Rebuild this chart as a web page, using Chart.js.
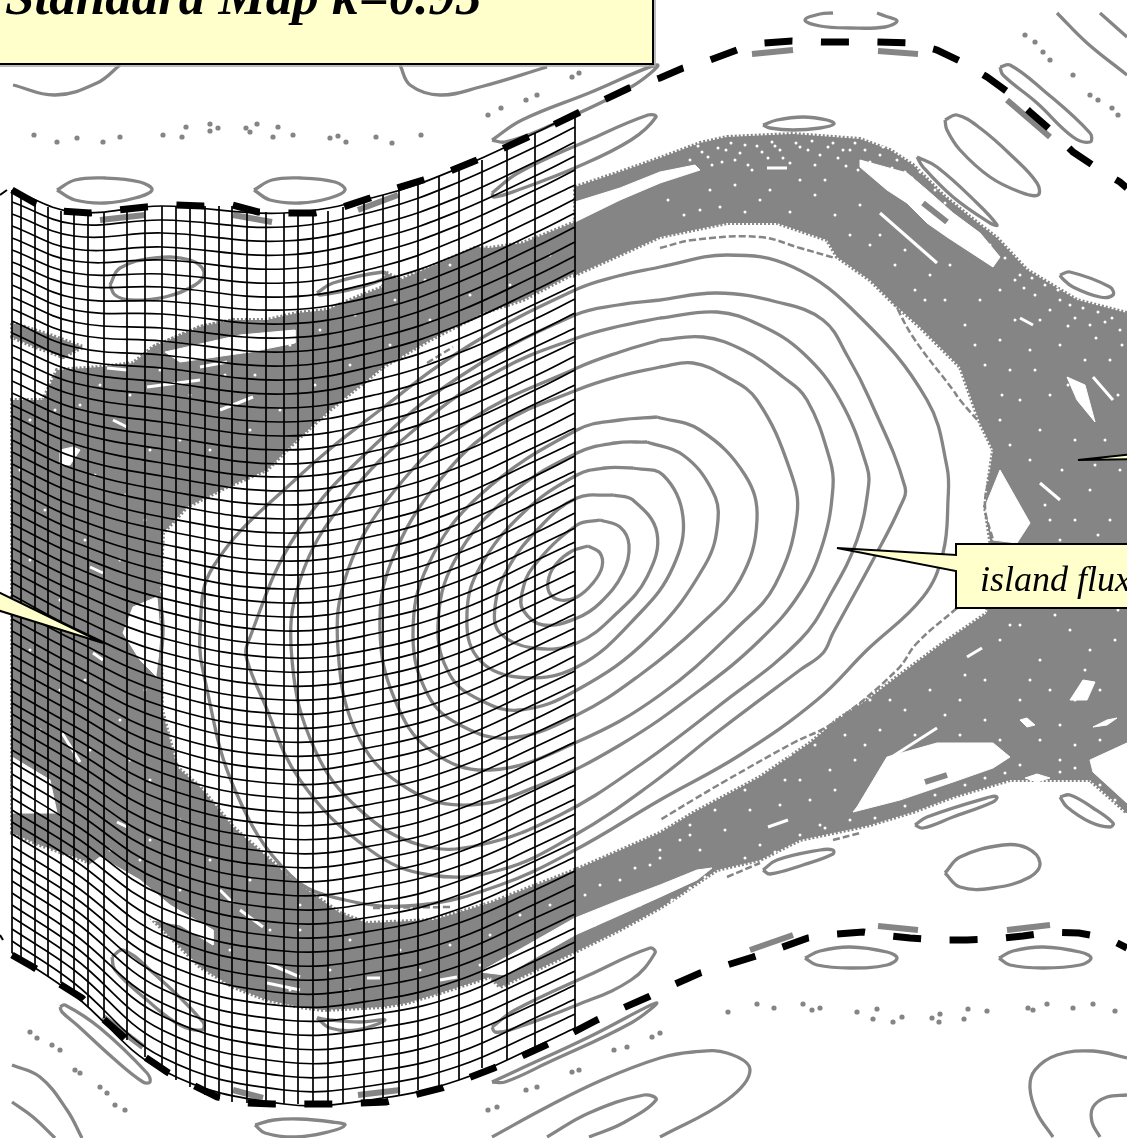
<!DOCTYPE html>
<html>
<head>
<meta charset="utf-8">
<title>Standard Map</title>
<style>
	html, body { margin: 0; padding: 0; background: #fff; overflow: hidden; }
	#wrap { position: relative; width: 1127px; height: 1138px; overflow: hidden; }
	#map { position: absolute; left: 0; top: 0; }
	.label { position: absolute; white-space: nowrap; font-family: "Liberation Serif", serif; font-style: italic; color: #000; }
	#title { left: 5px; top: -37px; font-size: 53px; line-height: 66px; font-weight: bold; }
	#flux { left: 980px; top: 558px; font-size: 36px; line-height: 42px; }
</style>
<script src="https://cdn.jsdelivr.net/npm/chart.js@4"></script>
</head>
<body>
<div id="wrap">
	<canvas id="map" width="1127" height="1138"></canvas>
	<div class="label" id="title">Standard Map k=0.95</div>
	<div class="label" id="flux">island flux</div>
</div>
<script>
//---------------------------------------------------------
// Data, all in picture units
//---------------------------------------------------------

// Nested orbits of the main island, inner to outer
const ORBIT_1 = [[588,546],[600,553],[602,567],[593,583],[577,597],[560,600],[549,592],[549,577],[557,563],[572,551]];
const ORBIT_2 = [[600,520],[620,527],[629,545],[623,573],[600,603],[577,618],[543,625],[523,610],[522,593],[533,567],[577,525]];
const ORBIT_3 = [[613,495],[633,500],[657,533],[647,577],[617,613],[577,643],[533,648],[500,633],[495,607],[507,570],[540,527],[577,498]];
const ORBIT_4 = [[633,468],[663,475],[683,517],[673,567],[640,613],[577,667],[517,677],[477,657],[467,613],[480,567],[523,513],[577,475],[605,468]];
const ORBIT_5 = [[647,442],[683,455],[712,490],[718,520],[705,565],[650,637],[577,690],[520,710],[480,700],[450,675],[438,625],[455,560],[510,495],[577,453],[615,443]];
const ORBIT_6 = [[657,417],[700,430],[745,475],[757,520],[740,580],[700,625],[640,675],[577,715],[510,738],[460,725],[428,695],[413,635],[428,565],[480,495],[577,430],[620,420]];
const ORBIT_7 = [[660,367],[693,363],[727,377],[757,400],[790,470],[797,515],[775,585],[740,625],[660,695],[577,742],[490,770],[430,750],[395,700],[380,630],[392,560],[440,480],[500,425],[577,390],[620,376]];
const ORBIT_8 = [[660,340],[703,337],[743,350],[783,377],[807,400],[830,460],[833,487],[823,543],[800,593],[760,640],[700,690],[620,745],[540,785],[470,805],[410,790],[360,740],[338,650],[348,570],[395,490],[470,420],[577,368],[620,352]];
const ORBIT_9 = [[660,318],[717,312],[760,325],[803,353],[840,400],[867,467],[868,490],[857,540],[833,590],[800,640],[720,705],[640,765],[560,815],[480,845],[420,845],[360,810],[315,750],[292,660],[300,580],[345,500],[420,425],[500,370],[577,338],[620,326]];
const ORBIT_10 = [[660,300],[717,293],[777,302],[823,320],[848,357],[870,400],[905,487],[900,507],[873,560],[833,633],[823,653],[800,670],[720,730],[650,785],[575,835],[500,870],[430,875],[370,850],[300,780],[263,700],[247,660],[247,645],[297,533],[380,440],[470,370],[575,315],[618,305]];
const ORBIT_11 = [[660,267],[727,255],[793,267],[860,317],[927,400],[947,467],[948,500],[943,553],[923,597],[867,650],[817,700],[740,755],[660,800],[575,850],[500,885],[420,905],[345,900],[290,875],[235,790],[205,680],[200,633],[213,567],[297,478],[380,410],[470,345],[575,290],[618,276]];

// Small closed islands around the chain
const ISLAND_TOP_A = [[57,190],[75,180],[105,178],[140,182],[152,190],[135,198],[105,203],[75,200]];
const ISLAND_TOP_B = [[254,190],[272,180],[300,178],[335,182],[345,190],[330,198],[300,203],[270,200]];
const ISLAND_UPPER = [[110,285],[120,268],[155,258],[190,260],[204,272],[195,285],[165,297],[130,300],[115,295]];
const ISLAND_DIAG_A = [[492,140],[522,120],[589,93],[657,65],[631,87],[547,127],[505,142]];
const ISLAND_DIAG_B = [[492,193],[518,173],[589,140],[648,115],[656,117],[631,140],[577,167],[518,190],[494,197]];
const ISLAND_MESH_A = [[317,293],[333,283],[383,272],[387,277],[357,288],[320,295]];
const ISLAND_ARC_TOP = [[763,125],[777,120],[803,117],[827,120],[834,124],[820,128],[793,130],[770,128]];
const ISLAND_THIN_A = [[917,157],[937,167],[977,203],[997,225],[990,223],[953,197],[923,167]];
const ISLAND_OVAL = [[945,120],[957,115],[980,128],[1013,157],[1037,183],[1038,195],[1020,192],[990,177],[960,150],[947,130]];
const ISLAND_LONG = [[1000,67],[1010,65],[1043,90],[1090,133],[1090,142],[1073,137],[1037,103],[1003,75]];
const ISLAND_RIGHT = [[1060,275],[1070,272],[1110,287],[1113,295],[1100,297],[1073,287],[1062,278]];
const ISLAND_LOW_A = [[763,870],[777,860],[820,850],[833,850],[833,854],[803,865],[770,874]];
const ISLAND_LOW_B = [[915,825],[927,817],[990,797],[997,797],[993,802],[953,817],[923,828]];
const ISLAND_LOW_C = [[1060,797],[1070,795],[1093,808],[1113,823],[1110,827],[1090,822],[1067,807]];
const ISLAND_EGG = [[945,873],[960,857],[1003,845],[1027,848],[1040,863],[1030,877],[993,888],[960,887]];
const ISLAND_FLAT_A = [[805,958],[820,951],[850,947],[887,952],[897,958],[887,965],[850,968],[817,965]];
const ISLAND_FLAT_B = [[999,958],[1013,951],[1043,947],[1080,952],[1091,958],[1080,965],[1043,968],[1010,965]];
const ISLAND_BOTTOM = [[255,1125],[274,1120],[299,1119],[332,1122],[345,1125],[328,1132],[295,1137],[265,1133]];
const ISLAND_MESH_B = [[317,1018],[330,1028],[357,1030],[385,1020],[360,1022],[330,1020]];
const ISLAND_DIAG_C = [[492,1027],[515,1010],[589,975],[650,948],[655,953],[631,980],[577,1005],[510,1030],[495,1032]];
const ISLAND_DIAG_D = [[492,1082],[518,1070],[589,1037],[656,1003],[631,1023],[547,1063],[505,1082]];
const ISLAND_DIAG_E = [[60,1007],[65,1005],[100,1028],[147,1073],[150,1082],[143,1082],[113,1058],[77,1025],[62,1012]];
const ISLAND_MESH_C = [[112,957],[123,950],[150,970],[203,1022],[202,1030],[180,1025],[147,1000],[115,970]];

// Curves cut off by the title or the picture edge
const OPEN_TITLE_A = [[13,85],[55,95],[97,83],[120,65]];
const OPEN_TITLE_B = [[400,65],[410,85],[440,95],[480,87],[547,67]];
const OPEN_TOP_FLAT = [[833,13],[820,14],[805,20],[820,26],[850,28],[885,27],[897,21],[885,16],[877,13]];
const OPEN_CORNER_A = [[1057,13],[1087,43],[1127,75]];
const OPEN_CORNER_B = [[1100,13],[1127,37]];
const OPEN_LOW_LEFT_A = [[12,1065],[40,1077],[67,1110],[82,1138]];
const OPEN_LOW_LEFT_B = [[12,1102],[33,1117],[55,1138]];
const OPEN_LOW_MID_A = [[492,1137],[547,1107],[602,1080],[660,1058],[693,1052],[727,1053],[750,1070],[727,1100],[660,1137]];
const OPEN_LOW_MID_B = [[547,1137],[589,1113],[644,1095],[656,1100],[623,1123],[589,1137]];
const OPEN_LOW_RIGHT_A = [[1127,1058],[1093,1051],[1057,1055],[1035,1070],[1030,1088],[1037,1113],[1053,1137]];
const OPEN_LOW_RIGHT_B = [[1127,1095],[1107,1097],[1093,1107],[1092,1122],[1100,1137]];

// Short solid grey bars, secondary islands seen edge on
const BAR_LIST = [
	[[100,220],[145,215]], [[233,215],[272,222]], [[358,210],[398,195]],
	[[923,203],[947,222]], [[1007,100],[1050,137]], [[925,782],[947,775]],
	[[750,950],[793,935]], [[878,926],[918,930]], [[1007,930],[1050,925]],
	[[358,1095],[400,1090]], [[233,1090],[263,1098]], [[103,1017],[143,1047]],
	[[752,54],[793,50]], [[878,51],[918,54]],
];

// Broken invariant curves hugging the chaotic band
const BROKEN_ARC_TOP = [[660,248],[693,240],[760,237],[800,248],[835,258]];
const BROKEN_ARC_RIGHT = [[893,300],[913,337],[953,390],[960,400],[980,423]];
const BROKEN_ARC_LOBE = [[990,473],[985,507],[993,540]];
const BROKEN_ARC_LOW = [[957,608],[917,643],[897,670],[833,723],[793,743],[727,780],[693,800],[660,820]];
const BROKEN_ARC_BAND = [[727,877],[760,863]];
const BROKEN_ARC_BAND_B = [[833,840],[860,833]];
const BROKEN_ARC_MESH_A = [[373,908],[450,907]];
const BROKEN_ARC_MESH_B = [[427,363],[453,347]];
const LOBE_EDGE = [[160,593],[163,633],[158,677]];

// Outlines of the chaotic sea
const CHAOS_RIGHT = [[575,187],[620,172],[660,158],[700,143],[727,137],[793,134],[860,139],[890,150],[913,165],[943,195],[970,217],[997,238],[1027,270],[1077,300],[1127,313],[1127,813],[1090,780],[1053,780],[1010,780],[953,797],[913,812],[870,825],[857,828],[833,833],[800,840],[760,860],[717,870],[680,895],[660,908],[620,930],[575,952],[575,870],[660,833],[693,813],[760,777],[810,743],[837,720],[867,700],[897,677],[943,643],[987,613],[993,560],[985,507],[990,470],[993,450],[980,423],[960,367],[920,327],[893,303],[870,280],[837,257],[827,240],[777,223],[727,223],[660,237],[620,255],[575,275]];
const CHAOS_LEFT = [[575,222],[523,243],[490,248],[477,247],[430,267],[400,280],[385,272],[383,287],[357,297],[327,310],[297,313],[267,320],[235,320],[200,327],[153,347],[133,363],[100,367],[57,370],[43,400],[12,400],[12,833],[40,845],[83,860],[100,868],[133,893],[153,920],[200,967],[233,987],[267,1000],[300,1007],[323,1010],[383,1007],[407,1003],[440,993],[490,977],[500,987],[575,952],[575,870],[523,890],[490,903],[457,913],[433,920],[367,923],[340,913],[307,890],[293,880],[267,857],[233,827],[200,787],[177,767],[162,710],[160,593],[163,533],[187,507],[227,487],[267,470],[297,440],[330,410],[383,367],[430,340],[483,313],[523,300],[575,273]];
const CHAOS_STRIP_A = [[12,323],[50,335],[83,347],[63,357],[30,345],[12,337]];
const CHAOS_STRIP_B = [[12,775],[22,780],[12,787]];
const CHAOS_STRIP_C = [[153,347],[200,327],[233,320],[243,337],[200,343],[153,350]];

// White holes inside the chaotic sea
const HOLE_LIST = [
	[[575,202],[620,188],[660,172],[695,165],[700,170],[660,183],[620,200],[575,222]],
	[[860,160],[907,173],[927,190],[953,213],[980,233],[1000,257],[993,267],[947,237],[927,223],[907,203],[887,190],[860,167]],
	[[1067,377],[1085,385],[1095,422],[1077,400]],
	[[1000,470],[1030,523],[1017,543],[993,540],[985,507]],
	[[1070,700],[1083,680],[1095,682],[1087,700]],
	[[1020,720],[1027,718],[1035,725],[1027,727]],
	[[1093,727],[1107,720],[1117,718],[1107,725]],
	[[1090,760],[1127,743],[1127,803],[1093,772]],
	[[1025,778],[1037,774],[1050,778],[1037,782]],
	[[857,807],[887,757],[937,743],[993,743],[1010,757],[993,768],[953,782],[900,800],[853,812]],
	[[575,918],[620,900],[660,885],[697,870],[712,868],[697,880],[660,897],[620,915],[575,935],[505,975],[480,972]],
	[[133,607],[157,597],[160,633],[157,677],[140,660],[123,633]],
	[[165,352],[240,335],[295,330],[295,343],[250,352],[180,362]],
	[[60,450],[73,447],[80,450],[70,465],[60,465]],
	[[12,757],[50,780],[57,813],[12,813]],
	[[100,857],[140,880],[170,905],[213,930],[213,945],[180,925],[153,920],[120,897],[87,867]],
];
const SLIT_LIST = [
	[[880,213],[937,263]], [[767,168],[787,168]], [[1020,318],[1033,325]], [[1093,377],[1113,400]],
	[[887,760],[937,728]], [[768,827],[788,820]], [[1040,483],[1060,500]], [[967,657],[982,648]],
	[[113,420],[127,427]], [[220,410],[253,397]], [[147,387],[200,380]], [[107,368],[127,370]],
	[[200,367],[227,362]], [[62,733],[80,762]], [[117,822],[127,827]], [[90,567],[103,573]],
	[[93,653],[103,660]], [[220,890],[233,903]], [[240,910],[263,927]], [[267,963],[300,977]],
	[[267,983],[300,990]], [[367,978],[380,978]], [[440,980],[457,977]],
];

// White flecks scattered through the sea
const SPECKLE_RIGHT = [[690,160],[702,152],[712,165],[726,150],[735,160],[745,145],[752,170],[762,152],[775,146],[783,158],[796,143],[808,150],[815,165],[828,147],[838,158],[850,150],[858,170],[870,162],[880,155],[892,168],[900,180],[675,172],[668,200],[684,215],[700,210],[720,207],[745,212],[760,200],[790,212],[815,195],[835,215],[850,235],[870,245],[895,265],[915,290],[905,250],[930,275],[945,300],[965,325],[950,265],[980,300],[1000,290],[1015,280],[1035,295],[1050,310],[1060,300],[1075,318],[1090,325],[1105,322],[1120,330],[1040,320],[1000,340],[985,365],[1010,370],[1030,350],[1060,345],[1085,360],[1110,360],[1020,400],[1050,395],[1000,420],[1040,430],[1075,440],[1105,440],[1120,470],[1030,460],[1010,445],[1090,490],[1075,520],[1110,520],[1050,520],[1060,540],[1000,640],[1020,625],[1040,660],[1070,630],[1090,650],[1115,640],[1100,690],[1050,690],[1020,700],[985,680],[960,700],[930,690],[905,710],[880,730],[855,760],[830,770],[800,780],[780,805],[750,810],[725,830],[700,850],[680,840],[650,865],[620,880],[760,770],[790,755],[815,745],[845,735],[870,700],[1000,740],[1040,740],[1060,760],[1075,745],[1100,740],[870,790],[900,795],[820,825],[760,845]];
const SPECKLE_ARC = [[698,146],[708,157],[718,148],[722,162],[731,143],[740,153],[748,165],[757,146],[768,158],[772,142],[780,150],[790,163],[800,147],[812,141],[820,155],[833,143],[843,150],[846,166],[855,143],[865,150],[875,168],[883,147],[897,160],[905,172],[912,178],[920,172],[935,190],[945,203],[960,222],[975,232],[990,245],[1005,258],[1020,275],[1032,278],[1045,285],[1058,290],[1070,305],[1083,308],[1098,312],[1112,318],[1024,288],[1068,326],[1096,338],[1122,345]];
const SPECKLE_MID = [[710,190],[735,185],[770,190],[800,180],[825,180],[860,205],[880,235],[925,300],[975,345],[1015,320],[1068,385],[1118,395],[1035,370],[1002,395],[1062,470],[1095,465],[1045,505],[1098,535],[1010,625],[1055,615],[1030,680],[1085,670],[1118,610],[965,675],[945,715],[915,735],[890,700],[865,745],[835,790],[810,800],[785,780],[745,790],[715,810],[690,825],[660,850],[1060,725],[1075,700],[985,720],[960,735]];
const SPECKLE_LOW_EDGE = [[672,900],[690,888],[705,877],[745,858],[775,852],[800,835],[825,828],[850,820],[875,818],[905,806],[935,795],[965,785],[985,778],[1005,773],[1060,772],[1075,768],[1020,765],[1100,785],[1115,800],[595,925],[610,915],[640,905],[585,895],[600,885],[635,868],[660,858],[690,835]];
const SPECKLE_LEFT = [[30,420],[55,410],[80,405],[100,385],[130,395],[160,370],[190,395],[225,375],[255,375],[290,345],[320,330],[355,315],[395,300],[425,280],[450,265],[20,470],[45,510],[95,475],[125,495],[150,450],[180,440],[210,450],[250,430],[280,410],[315,385],[350,365],[390,345],[430,320],[470,295],[510,285],[550,255],[30,560],[60,600],[85,540],[120,560],[145,520],[30,650],[60,690],[85,680],[120,720],[145,690],[40,730],[90,750],[130,760],[150,780],[25,790],[75,800],[110,850],[150,840],[180,820],[210,860],[250,880],[140,860],[180,890],[230,950],[270,930],[300,930],[300,905],[350,940],[330,970],[290,990],[350,990],[400,950],[420,970],[450,945],[490,935],[520,915],[550,905],[480,965]];

// Isolated dots of the outer broken tori
const DOTS_UPPER = [[34,135],[57,142],[77,138],[103,142],[120,137],[163,135],[182,137],[186,127],[210,131],[210,124],[218,128],[246,128],[257,124],[250,132],[273,137],[278,127],[293,135],[330,138],[338,136],[346,142],[376,137],[392,143],[421,135]];
const DOTS_LOWER = [[728,1012],[757,1004],[774,1008],[803,1004],[812,1010],[820,1008],[857,1012],[877,1009],[873,1019],[893,1022],[902,1017],[932,1018],[940,1014],[939,1022],[964,1019],[968,1009],[987,1011],[1028,1008],[1033,1010],[1047,1004],[1073,1008],[1093,1004],[1115,1011]];
const DOTS_DIAGONAL = [[488,115],[501,108],[526,100],[537,95],[572,77],[579,73],[1025,35],[1035,42],[1043,52],[1050,60],[1073,75],[1090,95],[1098,100],[1112,108],[1118,115],[30,1032],[37,1038],[52,1045],[60,1050],[75,1070],[80,1073],[100,1087],[107,1093],[115,1105],[125,1110],[488,1110],[497,1107],[526,1090],[537,1087],[572,1072],[579,1070],[614,1050],[627,1047],[652,1037],[660,1033]];

// Heavy dashed separatrices
const SEPARATRIX_TOP = [[12,190],[35,203],[61,211],[90,213],[118,210],[146,207],[175,205],[203,206],[232,205],[258,212],[287,213],[315,213],[343,207],[370,198],[397,188],[423,180],[450,171],[477,160],[502,149],[528,137],[553,125],[578,113],[604,100],[629,88],[660,78],[683,68],[710,60],[737,50],[764,43],[792,41],[821,42],[849,42],[877,42],[911,43],[937,50],[964,63],[987,77],[1012,95],[1031,113],[1053,132],[1073,152],[1097,168],[1120,182],[1127,188]];
const SEPARATRIX_BOTTOM = [[12,955],[33,967],[58,983],[82,998],[102,1018],[124,1037],[145,1057],[167,1072],[193,1085],[217,1097],[247,1103],[273,1104],[302,1104],[330,1104],[358,1103],[386,1102],[414,1095],[442,1088],[468,1078],[494,1068],[520,1057],[546,1045],[572,1033],[597,1020],[623,1008],[648,997],[673,985],[700,973],[727,965],[753,957],[780,948],[808,938],[836,934],[863,932],[882,935],[910,938],[938,940],[967,940],[995,939],[1023,936],[1051,932],[1079,933],[1107,938],[1127,948]];

// Warped mesh: vertical lines with their end heights
const MESH_X = [12,21,35,48,61,74,88,104,127,145,162,176,190,205,219,232,247,266,284,298,313,328,343,364,383,399,418,439,459,482,507,535,575];
const MESH_TOP = [190,193,203,207,211,212,213,213,209,207,206,206,206,206,206,206,209,212,213,213,212,211,207,200,195,190,185,176,168,160,147,133,113];
const MESH_BOTTOM = [953,960,967,977,983,995,1007,1018,1040,1057,1070,1080,1087,1095,1099,1102,1103,1104,1104,1104,1104,1103,1103,1102,1098,1095,1090,1086,1080,1068,1060,1047,1028];

// Mesh rows: height at each column of MESH_ROW_X. Only the first and last rows
// and a few spots were read directly, the rest assume roughly even row spacing
const MESH_ROW_X = [12,74,162,284,383,459,535,575];
const MESH_ROWS = [
	[190,212,206,213,195,168,133,113],[202,224,220,227,209,182,147,127],[214,236,233,241,223,197,162,142],
	[226,249,247,255,237,211,176,156],[238,261,260,269,251,225,190,170],[250,273,274,283,266,239,204,185],
	[262,285,287,297,280,254,219,199],[273,298,301,310,294,268,233,213],[285,310,314,324,308,282,247,227],
	[297,322,328,338,322,296,262,242],[309,334,341,352,336,311,276,256],[321,347,355,366,350,325,290,270],
	[333,359,368,380,364,339,304,285],[345,371,382,394,378,353,319,299],[357,383,395,408,393,368,333,313],
	[369,395,409,422,407,382,347,328],[381,408,422,436,421,396,361,342],[393,420,436,450,435,410,376,356],
	[405,432,449,464,449,425,390,370],[416,444,463,477,463,439,404,385],[428,457,476,491,477,453,419,399],
	[440,469,490,505,491,467,433,413],[452,481,503,519,505,482,447,428],[464,493,517,533,520,496,461,442],
	[476,506,530,547,534,510,476,456],[488,518,544,561,548,524,490,471],[500,530,557,575,562,539,504,485],
	[512,542,571,589,576,553,519,499],[524,554,584,603,590,567,533,513],[536,567,598,617,604,581,547,528],
	[548,579,611,631,618,596,561,542],[560,591,625,645,632,610,576,556],[571,603,638,658,647,624,590,571],
	[583,616,652,672,661,638,604,585],[595,628,665,686,675,653,619,599],[607,640,679,700,689,667,633,614],
	[619,652,692,714,703,681,647,628],[631,665,706,728,717,695,661,642],[643,677,719,742,731,710,676,656],
	[655,689,733,756,745,724,690,671],[667,701,746,770,759,738,704,685],[679,713,760,784,774,752,719,699],
	[691,726,773,798,788,767,733,714],[703,738,787,812,802,781,747,728],[714,750,800,825,816,795,761,742],
	[726,762,814,839,830,809,776,757],[738,775,827,853,844,824,790,771],[750,787,841,867,858,838,804,785],
	[762,799,854,881,872,852,818,799],[774,811,868,895,886,866,833,814],[786,824,881,909,901,881,847,828],
	[798,836,895,923,915,895,861,842],[810,848,908,937,929,909,876,857],[822,860,922,951,943,923,890,871],
	[834,872,935,965,957,938,904,885],[846,885,949,979,971,952,918,900],[858,897,962,993,985,966,933,914],
	[869,909,976,1006,999,980,947,928],[881,921,989,1020,1013,995,961,942],[893,934,1003,1034,1027,1009,976,957],
	[905,946,1016,1048,1042,1023,990,971],[917,958,1030,1062,1056,1037,1004,985],[929,970,1043,1076,1070,1052,1018,999],
	[941,983,1057,1090,1084,1066,1033,1014],[953,995,1070,1104,1098,1080,1047,1028],
];

// Callout outlines, tails included
const CALLOUT_TITLE = [[-6,-6],[653,-6],[653,64],[-6,64]];
const CALLOUT_TITLE_SHADOW = [[0,66],[655,66],[655,0]];
const CALLOUT_ISLAND = [[1135,544],[956,544],[956,555],[837,548],[956,571],[956,608],[1135,608]];
const CALLOUT_TAIL_RIGHT = [[1135,454],[1078,460],[1135,459]];
const CALLOUT_TAIL_LEFT = [[-6,590],[103,643],[-6,609]];
const TICK_MARK_A = [[0,195],[7,190]];
const TICK_MARK_B = [[0,935],[3,940]];

//---------------------------------------------------------
// Chart
//---------------------------------------------------------

const GREY = "#858585";
const YELLOW = "#ffffcc";

const closed = (points) => [...points, points[0]];

const curve = (data, extra) => ({
	data,
	showLine: true,
	pointRadius: 0,
	borderColor: GREY,
	borderWidth: 3.3,
	tension: 0.4,
	fill: false,
	...extra,
});

const area = (data, color, extra) => curve(closed(data), {
	tension: 0,
	fill: "shape",
	backgroundColor: color,
	borderColor: color,
	borderWidth: 1,
	...extra,
});

const dots = (data, color, radius) => ({
	data,
	showLine: false,
	pointRadius: radius,
	pointBorderWidth: 0,
	pointBackgroundColor: color,
});

// Listed in paint order, reversed below because the first dataset ends up on top
const DATASETS = [];

// Chaotic sea, a dashed border roughens its edge
[CHAOS_RIGHT, CHAOS_LEFT, CHAOS_STRIP_A, CHAOS_STRIP_B, CHAOS_STRIP_C].forEach((shape) => {
	DATASETS.push(area(shape, GREY, { borderWidth: 4, borderDash: [2, 2] }));
});
HOLE_LIST.forEach((shape) => DATASETS.push(area(shape, "#ffffff")));
SLIT_LIST.forEach((slit) => DATASETS.push(curve(slit, { borderColor: "#ffffff", borderWidth: 3, tension: 0 })));
[SPECKLE_RIGHT, SPECKLE_ARC, SPECKLE_MID, SPECKLE_LOW_EDGE, SPECKLE_LEFT].forEach((flecks) => DATASETS.push(dots(flecks, "#ffffff", 1.5)));

// Orbits and islands
[ORBIT_1, ORBIT_2, ORBIT_3, ORBIT_4, ORBIT_5, ORBIT_6, ORBIT_7, ORBIT_8, ORBIT_9, ORBIT_10, ORBIT_11,
	ISLAND_TOP_A, ISLAND_TOP_B, ISLAND_UPPER, ISLAND_DIAG_A, ISLAND_DIAG_B, ISLAND_MESH_A, ISLAND_ARC_TOP,
	ISLAND_THIN_A, ISLAND_OVAL, ISLAND_LONG, ISLAND_RIGHT, ISLAND_LOW_A, ISLAND_LOW_B, ISLAND_LOW_C, ISLAND_EGG,
	ISLAND_FLAT_A, ISLAND_FLAT_B, ISLAND_BOTTOM, ISLAND_MESH_B, ISLAND_DIAG_C, ISLAND_DIAG_D, ISLAND_DIAG_E, ISLAND_MESH_C,
].forEach((ring) => DATASETS.push(curve(closed(ring))));
[OPEN_TITLE_A, OPEN_TITLE_B, OPEN_TOP_FLAT, OPEN_CORNER_A, OPEN_CORNER_B, OPEN_LOW_LEFT_A, OPEN_LOW_LEFT_B,
	OPEN_LOW_MID_A, OPEN_LOW_MID_B, OPEN_LOW_RIGHT_A, OPEN_LOW_RIGHT_B, LOBE_EDGE,
].forEach((line) => DATASETS.push(curve(line)));
BAR_LIST.forEach((bar) => DATASETS.push(curve(bar, { borderWidth: 6, tension: 0 })));
[BROKEN_ARC_TOP, BROKEN_ARC_RIGHT, BROKEN_ARC_LOBE, BROKEN_ARC_LOW, BROKEN_ARC_BAND, BROKEN_ARC_BAND_B, BROKEN_ARC_MESH_A, BROKEN_ARC_MESH_B,
].forEach((arc) => DATASETS.push(curve(arc, { borderWidth: 2.5, borderDash: [7, 3] })));
[DOTS_UPPER, DOTS_LOWER, DOTS_DIAGONAL].forEach((group) => DATASETS.push(dots(group, GREY, 2.6)));

// Mesh
MESH_ROWS.forEach((row) => {
	DATASETS.push(curve(row.map((y, i) => [MESH_ROW_X[i], y]), { borderColor: "#000000", borderWidth: 1.7 }));
});
MESH_X.forEach((x, i) => {
	DATASETS.push(curve([[x, MESH_TOP[i]], [x, MESH_BOTTOM[i]]], { borderColor: "#000000", borderWidth: 1.7, tension: 0 }));
});

// Separatrices
[SEPARATRIX_TOP, SEPARATRIX_BOTTOM].forEach((line) => {
	DATASETS.push(curve(line, { borderColor: "#000000", borderWidth: 7, tension: 0, borderDash: [28, 28.5] }));
});

// Callouts
DATASETS.push(curve(CALLOUT_TITLE_SHADOW, { borderColor: "#a8a8a8", borderWidth: 1.5, tension: 0 }));
[CALLOUT_TITLE, CALLOUT_ISLAND, CALLOUT_TAIL_RIGHT, CALLOUT_TAIL_LEFT].forEach((shape) => {
	DATASETS.push(area(shape, YELLOW, { borderColor: "#000000", borderWidth: 2 }));
});
[TICK_MARK_A, TICK_MARK_B].forEach((mark) => {
	DATASETS.push(curve(mark, { borderColor: "#000000", borderWidth: 2, tension: 0 }));
});

const CHART_CONFIG = {
	type: "scatter",
	data: { datasets: DATASETS.reverse() },
	options: {
		responsive: false,
		animation: false,
		events: [],
		layout: { padding: 0, autoPadding: false },
		scales: {
			x: { type: "linear", display: false, min: 0, max: 1127 },
			y: { type: "linear", display: false, min: 0, max: 1138, reverse: true },
		},
		plugins: {
			legend: { display: false },
			tooltip: { enabled: false },
		},
	},
};

new Chart(document.getElementById("map"), CHART_CONFIG);
</script>
</body>
</html>
